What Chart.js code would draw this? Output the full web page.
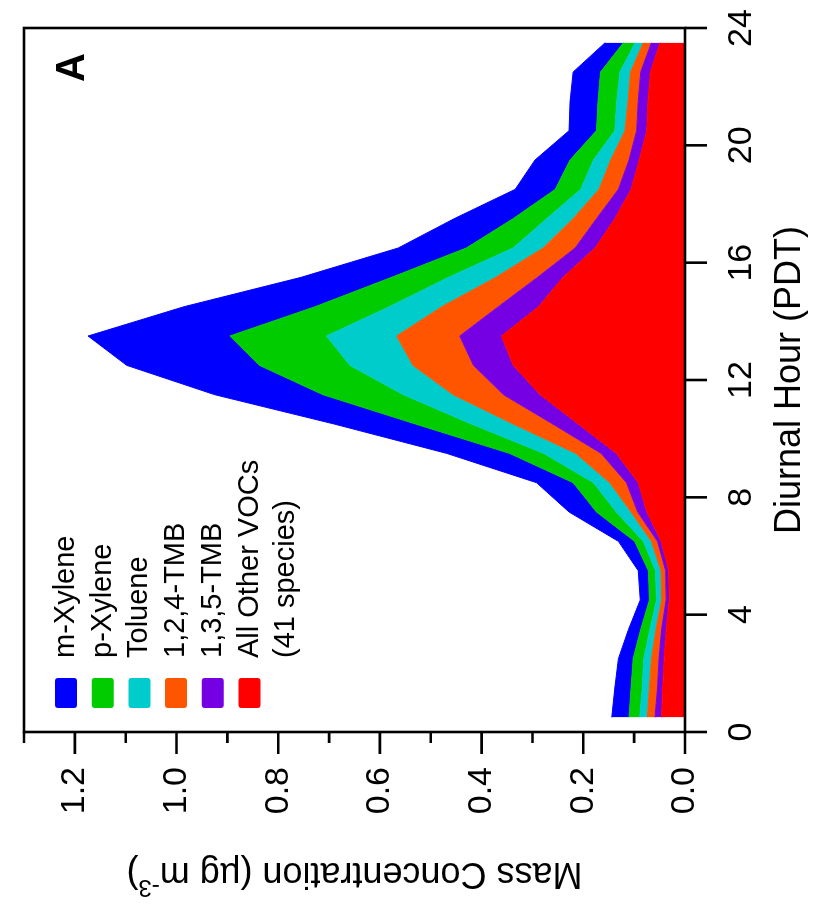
<!DOCTYPE html>
<html>
<head>
<meta charset="utf-8">
<script src="https://cdn.jsdelivr.net/npm/chart.js@4.4.1/dist/chart.umd.min.js"></script>
<style>
  html, body { margin: 0; padding: 0; background: #fff; }
  body { width: 813px; height: 908px; overflow: hidden; position: relative; }
  /* the chart is laid out landscape and turned a quarter turn counter-clockwise */
  #wrap {
    position: absolute; left: 0; top: 0;
    width: 908px; height: 813px;
    transform-origin: 0 0;
    transform: translate(0, 908px) rotate(-90deg);
  }
</style>
</head>
<body>
<div id="wrap"><canvas id="voc-chart" width="908" height="813"></canvas></div>
<script>
const FONT = "'Liberation Sans', Arial, sans-serif";

// hourly means, plotted at the middle of each hour
const hours = [0.5, 1.5, 2.5, 3.5, 4.5, 5.5, 6.5, 7.5, 8.5, 9.5, 10.5, 11.5,
               12.5, 13.5, 14.5, 15.5, 16.5, 17.5, 18.5, 19.5, 20.5, 21.5, 22.5, 23.5];

// mass concentration of each species (ug m-3), stacked from the bottom up
const otherVocs = [0.046, 0.044, 0.041, 0.037, 0.031, 0.032, 0.047, 0.075, 0.092, 0.135, 0.210, 0.285,
                   0.338, 0.361, 0.288, 0.240, 0.177, 0.138, 0.106, 0.090, 0.075, 0.073, 0.068, 0.049];
const tmb135 = [0.013, 0.010, 0.010, 0.009, 0.006, 0.006, 0.007, 0.018, 0.023, 0.030, 0.050, 0.072,
                0.078, 0.082, 0.079, 0.050, 0.039, 0.036, 0.025, 0.020, 0.020, 0.019, 0.019, 0.017];
const tmb124 = [0.015, 0.016, 0.015, 0.011, 0.009, 0.009, 0.012, 0.013, 0.033, 0.050, 0.078, 0.099,
                0.119, 0.124, 0.111, 0.082, 0.063, 0.046, 0.038, 0.036, 0.023, 0.020, 0.020, 0.016];
const toluene = [0.015, 0.014, 0.015, 0.012, 0.010, 0.011, 0.016, 0.029, 0.032, 0.063, 0.082, 0.098,
                 0.124, 0.138, 0.103, 0.093, 0.059, 0.052, 0.036, 0.034, 0.020, 0.022, 0.021, 0.016];
const pXylene = [0.021, 0.022, 0.021, 0.018, 0.014, 0.014, 0.017, 0.039, 0.040, 0.067, 0.110, 0.158,
                 0.178, 0.190, 0.146, 0.112, 0.092, 0.066, 0.050, 0.046, 0.036, 0.037, 0.038, 0.023];
const mXylene = [0.034, 0.032, 0.029, 0.024, 0.018, 0.020, 0.032, 0.054, 0.072, 0.124, 0.160, 0.213,
                 0.261, 0.279, 0.258, 0.178, 0.134, 0.116, 0.079, 0.069, 0.054, 0.055, 0.054, 0.036];

const seriesNames = ["All Other VOCs\n(41 species)", "1,3,5-TMB", "1,2,4-TMB", "Toluene", "p-Xylene", "m-Xylene"];
const seriesValues = [otherVocs, tmb135, tmb124, toluene, pXylene, mXylene];
const seriesColors = ["#ff0000", "#7600e4", "#ff5500", "#00cccc", "#00cc00", "#0000ff"];

const hourTicks = [0, 4, 8, 12, 16, 20, 24];

const datasets = seriesValues.map((vals, i) => ({
  label: seriesNames[i],
  data: vals.map((v, j) => ({ x: hours[j], y: v })),
  backgroundColor: seriesColors[i],
  borderColor: seriesColors[i],
  borderWidth: 1,
  fill: i === 0 ? "origin" : "-1",
  pointRadius: 0,
  tension: 0
}));

// box, tick marks, y title, legend and panel letter
const frameAndLegend = {
  id: "frameAndLegend",
  afterDraw(chart) {
    const c = chart.ctx;
    const a = chart.chartArea;
    const xs = chart.scales.x;
    const ys = chart.scales.y;
    c.save();
    c.strokeStyle = "#000";
    c.lineWidth = 2.6;
    c.strokeRect(a.left, a.top, a.right - a.left, a.bottom - a.top);

    c.beginPath();
    hourTicks.forEach(h => {
      const px = xs.getPixelForValue(h);
      c.moveTo(px, a.bottom);
      c.lineTo(px, a.bottom + 22);
    });
    for (let i = 0; i <= 13; i++) {
      const py = ys.getPixelForValue(i / 10);
      const len = i % 2 === 0 ? 22 : 11;
      c.moveTo(a.left, py);
      c.lineTo(a.left - len, py);
    }
    c.stroke();

    // y axis title with a superscript exponent
    c.fillStyle = "#000";
    c.textBaseline = "alphabetic";
    c.textAlign = "left";
    const main = "Mass Concentration (\u00b5g m";
    const sup = "-3";
    const close = ")";
    c.font = "36px " + FONT;
    const w1 = c.measureText(main).width;
    const w3 = c.measureText(close).width;
    c.font = "24px " + FONT;
    const w2 = c.measureText(sup).width;
    const total = w1 + w2 + w3;
    c.save();
    c.translate(45, (a.top + a.bottom) / 2);
    c.rotate(-Math.PI / 2);
    c.font = "36px " + FONT;
    c.fillText(main, -total / 2, 0);
    c.font = "24px " + FONT;
    c.fillText(sup, -total / 2 + w1, -17);
    c.font = "36px " + FONT;
    c.fillText(close, -total / 2 + w1 + w2, 0);
    c.restore();

    // legend, top species first
    c.font = "29px " + FONT;
    c.textBaseline = "middle";
    const order = [5, 4, 3, 2, 1, 0];
    order.forEach((si, k) => {
      const cy = 66 + k * 36.7;
      c.fillStyle = seriesColors[si];
      c.beginPath();
      c.roundRect(a.left + 24, cy - 11, 30, 22, 3);
      c.fill();
      c.fillStyle = "#000";
      seriesNames[si].split("\n").forEach((line, n) => {
        c.fillText(line, a.left + 74, cy + n * 36.7);
      });
    });

    // panel letter
    c.font = "bold 40px " + FONT;
    c.textBaseline = "alphabetic";
    c.fillText("A", 826, 84);
    c.restore();
  }
};

Chart.defaults.font.family = FONT;
Chart.defaults.color = "#000";

new Chart(document.getElementById("voc-chart").getContext("2d"), {
  type: "line",
  data: { datasets: datasets },
  options: {
    responsive: false,
    animation: false,
    layout: { padding: { left: 0, top: 24, right: 28, bottom: 0 } },
    plugins: {
      legend: { display: false },
      tooltip: { enabled: false }
    },
    scales: {
      x: {
        type: "linear",
        min: 0,
        max: 24,
        grid: { display: false, drawTicks: false },
        border: { display: false },
        ticks: { stepSize: 4, padding: 36, maxRotation: 0, font: { size: 34 }, color: "#000" },
        title: {
          display: true,
          text: "Diurnal Hour (PDT)",
          font: { size: 36 },
          color: "#000",
          padding: { top: 0, bottom: 1 }
        },
        afterFit(scale) {
          scale.height = 128;
          scale.paddingLeft = 0;
          scale.paddingRight = 0;
        }
      },
      y: {
        stacked: true,
        min: 0,
        max: 1.3,
        grid: { display: false, drawTicks: false },
        border: { display: false },
        ticks: {
          stepSize: 0.2,
          includeBounds: false,
          padding: 35,
          font: { size: 34 },
          color: "#000",
          callback: v => v.toFixed(1)
        },
        afterFit(scale) {
          scale.width = 176;
          scale.paddingTop = 0;
          scale.paddingBottom = 0;
        }
      }
    }
  },
  plugins: [frameAndLegend]
});
</script>
</body>
</html>
